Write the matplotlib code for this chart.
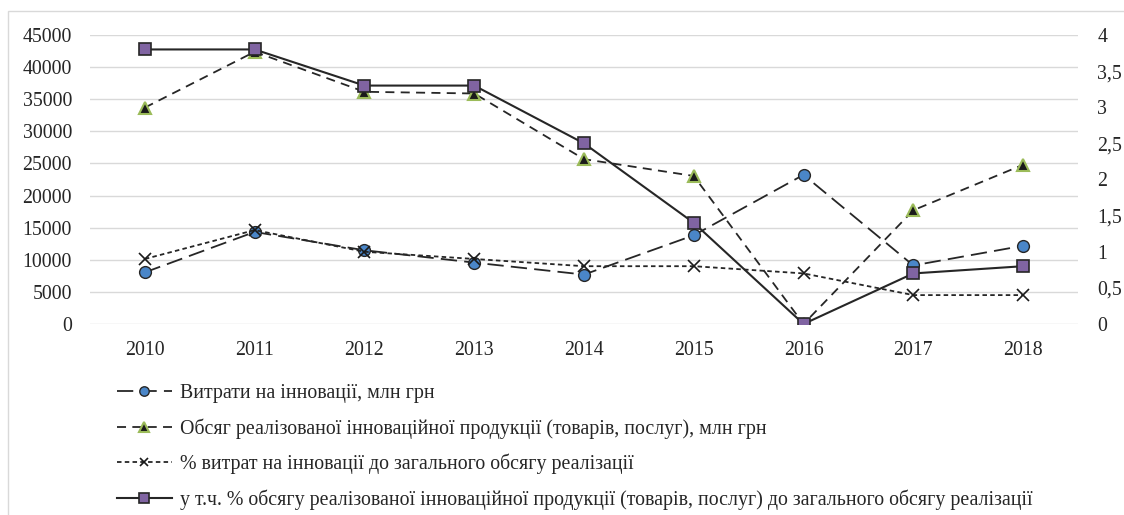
import numpy as np
import matplotlib
matplotlib.use("Agg")
import matplotlib.pyplot as plt
from matplotlib.ticker import FuncFormatter, MultipleLocator
from matplotlib.patches import Rectangle

plt.rcParams["font.family"] = ["Liberation Serif", "DejaVu Serif"]

# Data
years = ["2010", "2011", "2012", "2013", "2014", "2015", "2016", "2017", "2018"]
spending = [8045, 14333, 11480, 9562, 7695, 13813, 23229, 9117, 12180]
innov_sales = [33698, 42386, 36158, 35891, 25669, 23050, 0, 17714, 24795]
pct_spending = [0.9, 1.3, 1.0, 0.9, 0.8, 0.8, 0.7, 0.4, 0.4]
pct_sales = [3.8, 3.8, 3.3, 3.3, 2.5, 1.4, 0.0, 0.7, 0.8]

labels = [
    "Витрати на інновації, млн грн",
    "Обсяг реалізованої інноваційної продукції (товарів, послуг), млн грн",
    "% витрат на інновації до загального обсягу реалізації",
    "у т.ч. % обсягу реалізованої інноваційної продукції (товарів, послуг) до загального обсягу реалізації",
]

W, H = 1124, 515
fig = plt.figure(figsize=(W / 100, H / 100), dpi=100)

# light frame around the chart
fig.patches.append(Rectangle((8 / W, -0.1), 1.2, 1 - 11 / H + 0.1, transform=fig.transFigure,
                             fill=False, edgecolor="#d9d9d9", linewidth=1))

ax = fig.add_axes([90 / W, 1 - 324 / H, (1078 - 90) / W, (324 - 35) / H])
ax2 = ax.twinx()

x = np.arange(len(years))
lc = "#262626"
fs = 14.35

l1, = ax.plot(x, spending, color=lc, lw=1.3, dashes=(9, 4), marker="o", ms=8.5,
              mfc="#4a86c8", mec="#262626", mew=1, label=labels[0])
l2, = ax.plot(x, innov_sales, color=lc, lw=1.3, dashes=(5, 3.5), marker="^", ms=8.5,
              mfc="#1a1a1a", mec="#9bbb59", mew=1.5, label=labels[1])
l3, = ax2.plot(x, pct_spending, color=lc, lw=1.3, dashes=(2.5, 1.8), marker="x", ms=8,
               mec="#1a1a1a", mew=1.2, label=labels[2])
l4, = ax2.plot(x, pct_sales, color=lc, lw=1.5, marker="s", ms=9,
               mfc="#8064a2", mec="#262626", mew=1.2, label=labels[3])

ax.set_xlim(-0.5, len(years) - 0.5)
ax.set_ylim(0, 45000)
ax2.set_ylim(0, 4)
ax.yaxis.set_major_locator(MultipleLocator(5000))
ax2.yaxis.set_major_locator(MultipleLocator(0.5))
ax2.yaxis.set_major_formatter(FuncFormatter(lambda v, p: f"{v:g}".replace(".", ",")))
ax.set_xticks(x)
ax.set_xticklabels(years)

ax.grid(axis="y", color="#d9d9d9", lw=1)
ax.set_axisbelow(True)
for a in (ax, ax2):
    for s in a.spines.values():
        s.set_visible(False)
    a.tick_params(length=0, labelsize=fs, colors="#262626")
ax.tick_params(axis="y", pad=13)
ax.tick_params(axis="x", pad=12)
ax2.tick_params(axis="y", pad=14)

fig.legend(handles=[l1, l2, l3, l4], loc="upper left", bbox_to_anchor=(117 / W, 1 - 384 / H),
           frameon=False, fontsize=fs, handlelength=2.75, handletextpad=0.4,
           labelspacing=0.76, borderaxespad=0, borderpad=0, labelcolor="#262626",
           markerscale=0.8)

fig.savefig("out.png", dpi=100)
